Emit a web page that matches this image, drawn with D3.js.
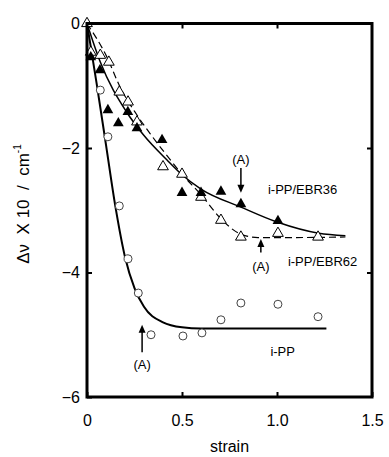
<!DOCTYPE html>
<meta charset="utf-8">
<style>
body { margin: 0; background: #fff; }
text { font-family: "Liberation Sans", Arial, sans-serif; fill: #000; }
</style>
<body>
<svg width="389" height="457"></svg>
<script src="https://d3js.org/d3.v7.min.js"></script>
<script>

var ppStrain = [0.07, 0.11, 0.17, 0.216, 0.27, 0.337, 0.505, 0.605, 0.705, 0.81, 1.005, 1.216];
var ppShift = [-1.07, -1.82, -2.93, -3.78, -4.33, -5.0, -5.02, -4.97, -4.76, -4.49, -4.51, -4.71];

var ebr36Strain = [0.02, 0.068, 0.11, 0.165, 0.215, 0.263, 0.395, 0.5, 0.6, 0.705, 0.81, 1.005];
var ebr36Shift = [-0.54, -0.75, -1.39, -1.6, -1.42, -1.68, -1.87, -2.72, -2.72, -2.7, -2.9, -3.17];

var ebr62Strain = [0, 0.02, 0.07, 0.115, 0.17, 0.216, 0.263, 0.4, 0.5, 0.6, 0.705, 0.81, 1.005, 1.216];
var ebr62Shift = [0, -0.46, -0.51, -0.62, -1.1, -1.26, -1.58, -2.3, -2.42, -2.79, -3.16, -3.43, -3.37, -3.43];

// fitted curves
var ppFitX = [0, 0.05, 0.1, 0.15, 0.2, 0.25, 0.3, 0.4, 0.5, 0.6, 1.26];
var ppFitY = [0, -0.95, -1.95, -2.95, -3.75, -4.25, -4.55, -4.8, -4.88, -4.9, -4.9];

var ebr36FitX = [0, 0.07, 0.21, 0.3, 0.42, 0.5, 0.6, 0.81, 1.0, 1.22, 1.36];
var ebr36FitY = [0, -0.62, -1.43, -1.8, -2.19, -2.43, -2.66, -2.95, -3.19, -3.37, -3.41];

var ebr62FitX = [0, 0.105, 0.174, 0.263, 0.33, 0.41, 0.5, 0.6, 0.7, 0.8, 0.9, 1.0, 1.36];
var ebr62FitY = [0, -0.54, -1.02, -1.47, -1.76, -2.08, -2.42, -2.75, -3.12, -3.37, -3.44, -3.44, -3.43];

var xTicks = [0, 0.5, 1.0, 1.5];
var xTickLabels = ["0", "0.5", "1.0", "1.5"];
var yTicks = [0, -2, -4, -6];

var svg = d3.select("svg"),
    margin = {top: 23.5, right: 17, bottom: 60, left: 87},
    width = +svg.attr("width") - margin.left - margin.right,
    height = +svg.attr("height") - margin.top - margin.bottom,
    g = svg.append("g").attr("transform", "translate(" + margin.left + "," + margin.top + ")");

var x = d3.scaleLinear().domain([0, 1.5]).range([0, width]);
var y = d3.scaleLinear().domain([-6, 0]).range([height, 0]);

function pts(xs, ys) { return xs.map(function(d, i) { return [d, ys[i]]; }); }

var line = d3.line()
    .x(function(d) { return x(d[0]); })
    .y(function(d) { return y(d[1]); })
    .curve(d3.curveMonotoneX);

// fitted lines
g.append("path").datum(pts(ppFitX, ppFitY))
    .attr("d", line).attr("fill", "none").attr("stroke", "#000").attr("stroke-width", 2);
g.append("path").datum(pts(ebr36FitX, ebr36FitY))
    .attr("d", line).attr("fill", "none").attr("stroke", "#000").attr("stroke-width", 1.5);
g.append("path").datum(pts(ebr62FitX, ebr62FitY))
    .attr("d", line).attr("fill", "none").attr("stroke", "#000").attr("stroke-width", 1.2)
    .attr("stroke-dasharray", "7,4");

// markers
g.append("g").selectAll("circle")
    .data(pts(ppStrain, ppShift))
  .enter().append("circle")
    .attr("cx", function(d) { return x(d[0]); })
    .attr("cy", function(d) { return y(d[1]); })
    .attr("r", 4)
    .attr("fill", "#fff")
    .attr("stroke", "#444")
    .attr("stroke-width", 1);

var tri = d3.symbol().type(d3.symbolTriangle).size(50);

g.append("g").selectAll("path")
    .data(pts(ebr62Strain, ebr62Shift))
  .enter().append("path")
    .attr("d", tri)
    .attr("transform", function(d) { return "translate(" + x(d[0]) + "," + y(d[1]) + ")"; })
    .attr("fill", "#fff")
    .attr("stroke", "#000")
    .attr("stroke-width", 1);

g.append("g").selectAll("path")
    .data(pts(ebr36Strain, ebr36Shift))
  .enter().append("path")
    .attr("d", tri)
    .attr("transform", function(d) { return "translate(" + x(d[0]) + "," + y(d[1]) + ")"; })
    .attr("fill", "#000");

// frame and inward ticks
g.append("rect")
    .attr("width", width).attr("height", height)
    .attr("fill", "none").attr("stroke", "#000").attr("stroke-width", 3);

g.append("g")
    .attr("transform", "translate(0," + height + ")")
    .call(d3.axisBottom(x).tickValues(xTicks).tickSizeInner(-5).tickSizeOuter(0)
      .tickFormat(function(d, i) { return xTickLabels[i]; }))
    .call(function(a) {
      a.select(".domain").remove();
      a.selectAll("line").attr("stroke-width", 2);
      a.selectAll("text").attr("y", 18).attr("font-size", 16);
    });

g.append("g")
    .call(d3.axisTop(x).tickValues([0.5, 1.0]).tickSizeInner(-5).tickSizeOuter(0).tickFormat(""))
    .call(function(a) { a.select(".domain").remove(); a.selectAll("line").attr("stroke-width", 2); });

g.append("g")
    .call(d3.axisLeft(y).tickValues(yTicks).tickSizeInner(-5).tickSizeOuter(0).tickFormat(d3.format("d")))
    .call(function(a) {
      a.select(".domain").remove();
      a.selectAll("line").attr("stroke-width", 2);
      a.selectAll("text").attr("x", -7).attr("font-size", 16);
    });

g.append("g")
    .attr("transform", "translate(" + width + ",0)")
    .call(d3.axisRight(y).tickValues([-2, -4]).tickSizeInner(-5).tickSizeOuter(0).tickFormat(""))
    .call(function(a) { a.select(".domain").remove(); a.selectAll("line").attr("stroke-width", 2); });

// axis titles
svg.append("text")
    .attr("x", margin.left + width / 2)
    .attr("y", 452)
    .attr("text-anchor", "middle")
    .attr("font-size", 16)
    .text("strain");

var yl = svg.append("text")
    .attr("transform", "translate(29,204) rotate(-90)")
    .attr("text-anchor", "middle")
    .attr("font-size", 17)
    .style("white-space", "pre");
yl.append("tspan").text("Δν  X 10  /  cm");
yl.append("tspan").attr("dy", -8).attr("font-size", 10).text("-1");

// annotations
function arrow(xv, y1, y2) {
  var x0 = x(xv), a = y(y1), b = y(y2), dir = b > a ? 1 : -1;
  g.append("line").attr("x1", x0).attr("x2", x0).attr("y1", a).attr("y2", b - dir * 6)
      .attr("stroke", "#000").attr("stroke-width", 1.5);
  g.append("path")
      .attr("d", "M" + (x0 - 3.5) + "," + (b - dir * 8) + "L" + x0 + "," + b + "L" + (x0 + 3.5) + "," + (b - dir * 8) + "Z")
      .attr("fill", "#000");
}
function label(xv, yv, s, anchor) {
  g.append("text")
      .attr("x", x(xv)).attr("y", y(yv))
      .attr("text-anchor", anchor || "middle")
      .attr("dy", "0.35em")
      .attr("font-size", 13)
      .text(s);
}

arrow(0.81, -2.32, -2.72);
label(0.81, -2.18, "(A)");
label(1.135, -2.66, "i-PP/EBR36");

arrow(0.915, -3.68, -3.46);
label(0.915, -3.9, "(A)");
label(1.24, -3.83, "i-PP/EBR62");

arrow(0.29, -5.28, -4.84);
label(0.29, -5.48, "(A)");
label(1.03, -5.27, "i-PP");

</script>
</body>
